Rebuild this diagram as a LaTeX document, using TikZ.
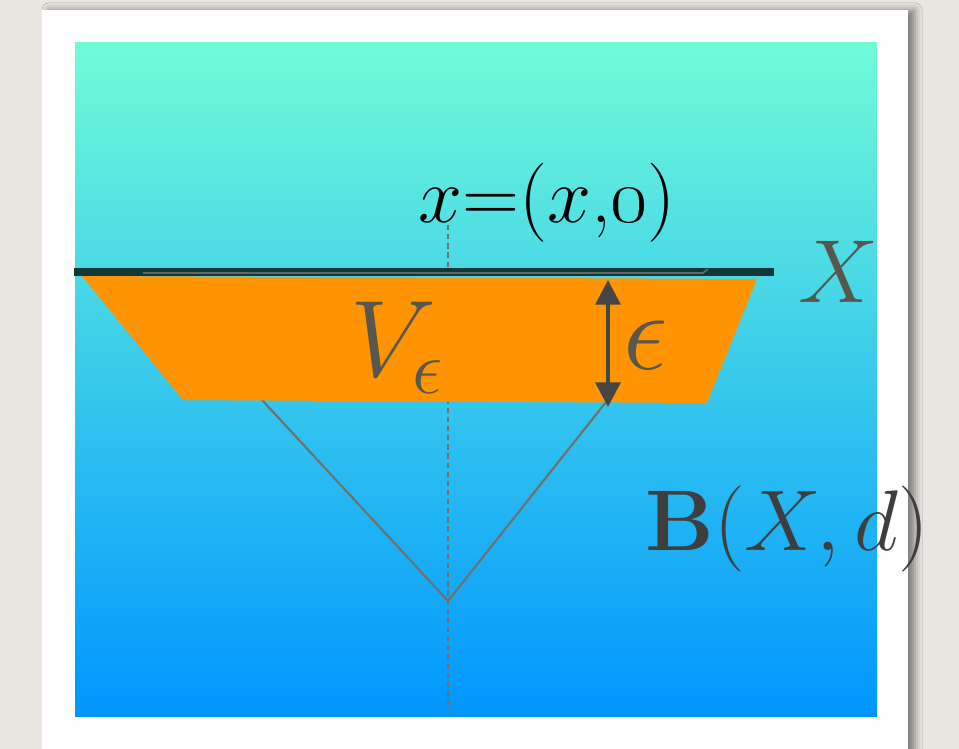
\documentclass[tikz,border=0pt]{standalone}
\usepackage{fix-cm}
\usepackage{amsmath,amssymb}
\usepackage{tikz}
\usetikzlibrary{
  arrows.meta,
  shadows.blur,
  calc
}
\definecolor{bgpaper}{RGB}{233,230,225}
\definecolor{topaqua}{RGB}{112,252,216}
\definecolor{botblue}{RGB}{0,150,255}
\definecolor{vorange}{RGB}{255,148,0}
\definecolor{darkline}{RGB}{17,55,58}
\definecolor{lblgrey}{RGB}{88,87,77}
\definecolor{arrgrey}{RGB}{69,69,69}
\definecolor{guidegrey}{RGB}{112,112,112}

\begin{document}
\begin{tikzpicture}[
  x=0.02cm, y=-0.02cm,
  lbl/.style={inner sep=0pt, anchor=base, text=lblgrey},
  guide/.style={draw=guidegrey, line width=1.2pt},
  dashline/.style={draw=guidegrey, line width=1.2pt, dash pattern=on 3pt off 2.2pt},
  arr/.style={{Triangle[length=14pt,width=14pt]}-{Triangle[length=14pt,width=14pt]},
              line width=2.3pt, arrgrey}
]
  \useasboundingbox (0,0) rectangle (959,749);
  \fill[bgpaper] (0,0) rectangle (959,749);
  \fill[white, blur shadow={shadow xshift=4pt, shadow yshift=0pt,
        shadow blur radius=4pt, shadow opacity=45}] (42,10) rectangle (908,780);
  \shade[top color=topaqua, bottom color=botblue] (75,43) rectangle (877,716);

  % points of the picture
  \coordinate (tl) at (82,276);
  \coordinate (tr) at (757,279);
  \coordinate (br) at (707,403);
  \coordinate (bl) at (183,400);
  \coordinate (apex) at (448,601);
  \coordinate (vl) at (262,400);
  \coordinate (vr) at (606,402);
  \coordinate (dashTop) at (448,225);
  \coordinate (dashBot) at (448,711);
  \coordinate (xL) at (74,272);
  \coordinate (xR) at (774,272);
  \coordinate (epsTop) at (608,280);
  \coordinate (epsBot) at (608,407);

  \draw[dashline] (dashTop) -- (dashBot);
  \draw[guide] (vl) -- (apex) -- (vr);
  \fill[vorange] (tl) -- (tr) -- (br) -- (bl) -- cycle;
  \draw[darkline, line width=5pt] (xL) -- (xR);
  \draw[guidegrey!90!black, line width=1pt] (143,273) -- (703,273) -- (708,269);
  \draw[arr] (epsTop) -- (epsBot);

  \node[lbl, text=black, font=\fontsize{45}{54}\selectfont] (lblPoint) at (547,223)
    {$x$=($x$,\oldstylenums{0})};
  \node[lbl, font=\fontsize{51}{60}\selectfont] (lblX) at (838,303) {$X$};
  \node[lbl, font=\fontsize{62}{72}\selectfont] (lblV) at (397,377) {$V_\epsilon$};
  \node[lbl, font=\fontsize{64}{72}\selectfont] (lblEps) at (646,370) {$\epsilon$};
  \node[lbl, text=arrgrey!90!black, font=\fontsize{49}{58}\selectfont] (lblBall) at (787,550)
    {$\mathbf{B}(X,d)$};
\end{tikzpicture}
\end{document}
